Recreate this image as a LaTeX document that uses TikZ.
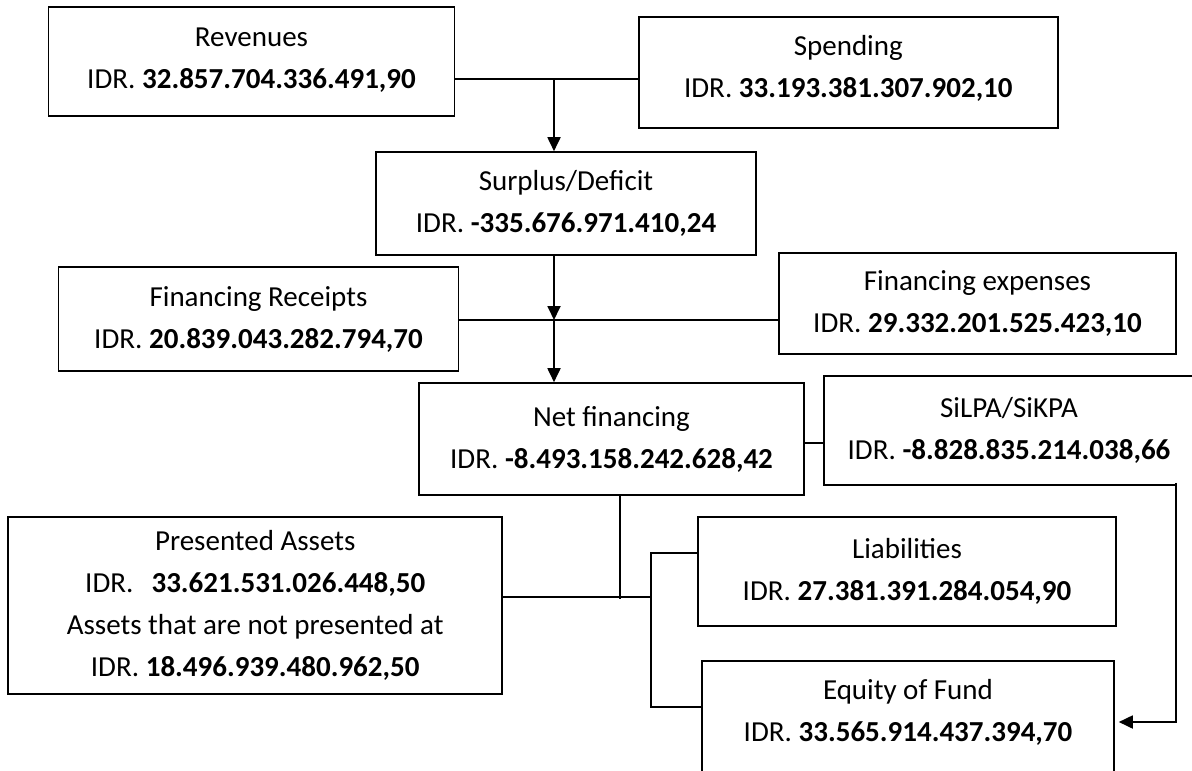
\documentclass[tikz,border=0pt]{standalone}
\usepackage{fontspec}
\setmainfont{Carlito}
\usetikzlibrary{arrows.meta,positioning}

\begin{document}
\begin{tikzpicture}[x=1pt,y=-1pt]
    \tikzstyle{box} = [draw, rectangle, line width=1.6pt, inner sep=0pt,
    align=center, font=\fontsize{29}{42}\selectfont]
    \tikzstyle{line} = [line width=1.8pt]
    \tikzstyle{arr} = [line width=1.8pt, -{Triangle[length=14pt,width=13pt]}]

    \useasboundingbox (0,0) rectangle (1192,771);

    \draw
    (251.5,61.5) node [box,minimum width=406pt,minimum height=109pt,text depth=6pt] (rev)
    {Revenues\\IDR. \textbf{32.857.704.336.491,90}}
    (848.3,72.5) node [box,minimum width=419pt,minimum height=111pt,text depth=13pt] (spe)
    {Spending\\IDR. \textbf{33.193.381.307.902,10}}
    (566,203.5) node [box,minimum width=380pt,minimum height=103pt] (sur)
    {Surplus/Deficit\\IDR. \textbf{-335.676.971.410,24}}
    (258.5,319) node [box,minimum width=400pt,minimum height=104pt] (fre)
    {Financing Receipts\\IDR. \textbf{20.839.043.282.794,70}}
    (977.5,303.5) node [box,minimum width=397pt,minimum height=101pt] (fex)
    {Financing expenses\\IDR. \textbf{29.332.201.525.423,10}}
    (611.5,439) node [box,minimum width=385pt,minimum height=112pt] (net)
    {Net financing\\IDR. \textbf{-8.493.158.242.628,42}}
    (1009,430.5) node [box,draw=none,minimum width=368pt,minimum height=107pt] (sil)
    {SiLPA/SiKPA\\IDR. \textbf{-8.828.835.214.038,66}}
    (255.2,605.5) node [box,minimum width=494pt,minimum height=177pt] (pre)
    {Presented Assets\\IDR.\hspace{18pt}\textbf{33.621.531.026.448,50}\\
    Assets that are not presented at\\IDR. \textbf{18.496.939.480.962,50}}
    (907,571.5) node [box,minimum width=418pt,minimum height=109pt] (lia)
    {Liabilities\\IDR. \textbf{27.381.391.284.054,90}}
    (908,730.5) node [box,minimum width=412pt,minimum height=139pt,text depth=41pt] (eq)
    {Equity of Fund\\IDR. \textbf{33.565.914.437.394,70}}
    ;

    \coordinate (jtop) at (554,79);
    \coordinate (jmid) at (554,320);
    \coordinate (jnet) at (619.6,597);
    \coordinate (jfork) at (651,597);
    \coordinate (jsil) at (1176,722);

    % open box, right side is off the page
    \draw [line width=1.6pt] (sil.north east) -| (sil.south west) -- (jsil |- sil.south);

    \draw [line] (rev.east |- jtop) -- (spe.west |- jtop);
    \draw [arr] (jtop) -- (jtop |- sur.north);
    \draw [arr] (jtop |- sur.south) -- (jmid);
    \draw [line] (fre.east |- jmid) -- (fex.west |- jmid);
    \draw [arr] (jmid) -- (jmid |- net.north);
    \draw [line] (net.east |- 0,443) -- (sil.west |- 0,443);
    \draw [line] (jnet |- net.south) -- ([yshift=-2pt]jnet);
    \draw [line] (pre.east |- jfork) -- (jfork);
    \draw [line] (lia.west |- 0,553) -| (jfork) |- (eq.west |- 0,707);
    \draw [arr] ([yshift=2pt]jsil |- sil.south) -- (jsil) -- ([xshift=4pt]eq.east |- jsil);

  \end{tikzpicture}
\end{document}
